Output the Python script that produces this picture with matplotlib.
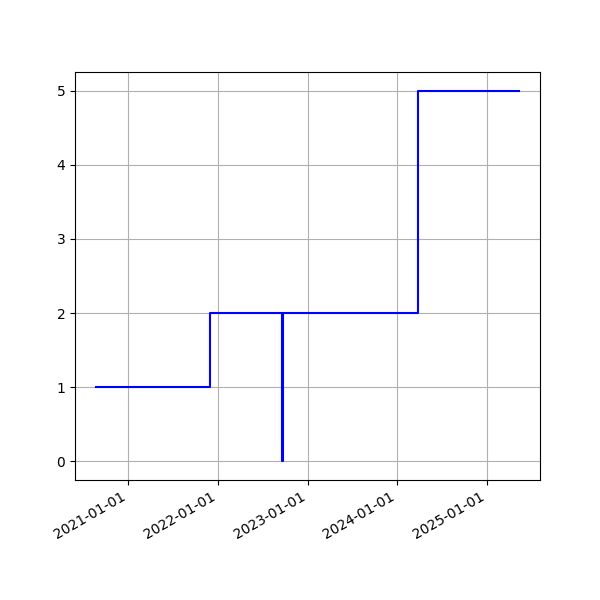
import matplotlib
matplotlib.use("Agg")
import matplotlib.pyplot as plt
import matplotlib.dates as mdates
import pandas as pd

# step data (value holds until the next date)
dates = ["2020-08-23", "2021-11-29", "2022-09-20", "2022-09-22", "2024-03-26", "2025-05-11"]
values = [1, 2, 0, 2, 5, 5]

x = pd.to_datetime(dates)

fig, ax = plt.subplots(figsize=(6, 6), dpi=100)
ax.plot(x, values, drawstyle="steps-post", color="b")
ax.grid(True)
ax.xaxis.set_major_locator(mdates.YearLocator())
ax.xaxis.set_major_formatter(mdates.DateFormatter("%Y-%m-%d"))
fig.autofmt_xdate()
fig.savefig("out.png", dpi=100)
